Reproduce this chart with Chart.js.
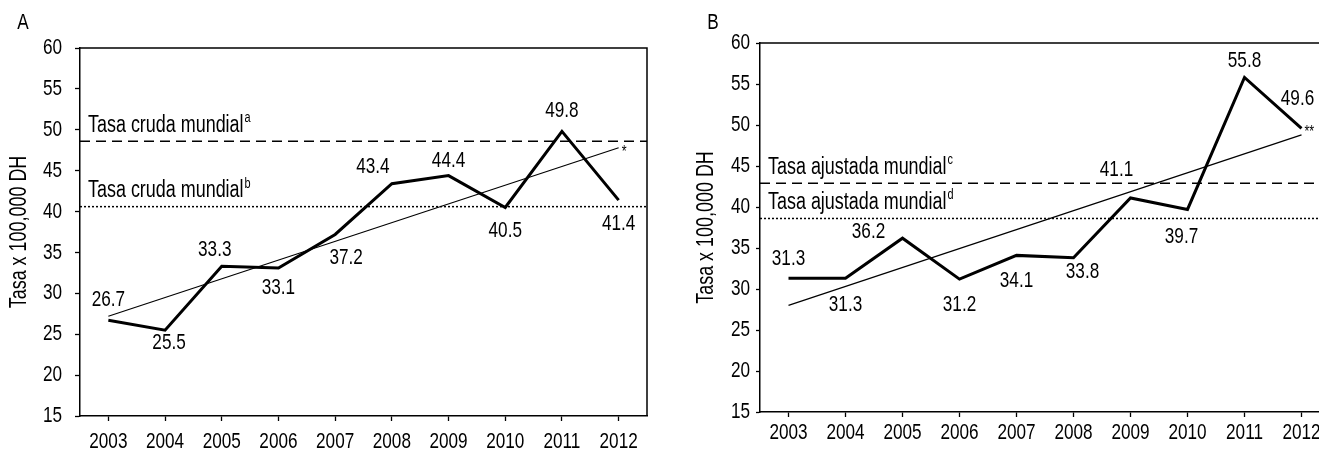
<!DOCTYPE html>
<html lang="es">
<head>
<meta charset="UTF-8">
<title>Tasa x 100,000 DH</title>
<script src="https://cdn.jsdelivr.net/npm/chart.js"></script>
<style>
    body {
        margin: 0;
        background: #fff;
        width: 1319px;
        height: 452px;
        overflow: hidden;
        position: relative;
    }

    .panel {
        position: absolute;
        top: 0;
        height: 452px;
        overflow: hidden;
    }

    #panelA { left: 0; width: 660px; }
    #panelB { left: 680px; width: 639px; }
</style>
</head>
<body>

<div class="panel" id="panelA"><canvas id="chartA" width="660" height="452"></canvas></div>
<div class="panel" id="panelB"><canvas id="chartB" width="680" height="452"></canvas></div>

<script>
    // values
    const years = ['2003', '2004', '2005', '2006', '2007', '2008', '2009', '2010', '2011', '2012'];
    const tasaCruda = [26.7, 25.5, 33.3, 33.1, 37.2, 43.4, 44.4, 40.5, 49.8, 41.4];
    const tasaAjustada = [31.3, 31.3, 36.2, 31.2, 34.1, 33.8, 41.1, 39.7, 55.8, 49.6];
    // ends (2003, 2012) of the fitted trend lines
    const tendenciaCruda = [27.2, 47.8];
    const tendenciaAjustada = [28.0, 48.8];
    // world reference rates: dashed, dotted
    const mundialCruda = [48.6, 40.6];
    const mundialAjustada = [42.9, 38.6];
    const yTicks = [15, 20, 25, 30, 35, 40, 45, 50, 55, 60];

    const FAMILY = "'Liberation Sans', Arial, sans-serif";
    const font = { family: FAMILY, size: 22 };
    const titleFont = { family: FAMILY, size: 23 };
    // the original uses a condensed face, so text is squeezed horizontally
    const NARROW = 0.78;

    // where each value label sits relative to its point (px)
    const offsetsA = [[0, -20], [4, 13], [-7, -16], [0, 20], [11, 23], [-19, -17], [0, -15], [0, 23], [0, -20], [0, 24]];
    const offsetsB = [[0, -19], [0, 27], [-34, -6], [0, 26], [0, 26], [9, 14], [-14, -28], [-6, 27], [0, -17], [-4, -29]];

    const narrow = {
        id: 'narrow',
        beforeInit(chart) {
            const ctx = chart.ctx;
            const fill = ctx.fillText.bind(ctx);
            ctx.fillText = function (text, x, y) {
                this.save();
                this.translate(x, y);
                this.scale(NARROW, 1);
                fill(text, 0, 0);
                this.restore();
            };
        }
    };

    function textWithSup(ctx, x, y, main, sup) {
        ctx.font = `23px ${FAMILY}`;
        ctx.textAlign = 'left';
        ctx.textBaseline = 'middle';
        ctx.fillText(main, x, y);
        const w = ctx.measureText(main).width * NARROW;
        ctx.font = `14px ${FAMILY}`;
        ctx.fillText(sup, x + w + 1, y - 7);
    }

    // reference lines, box, value labels, panel letter
    const decor = {
        id: 'decor',
        beforeDatasetsDraw(chart, args, opts) {
            const { ctx, chartArea: a, scales: { y } } = chart;
            ctx.save();
            ctx.strokeStyle = '#000';
            ctx.lineWidth = 1.5;
            opts.refs.forEach(r => {
                const py = y.getPixelForValue(r.value);
                ctx.setLineDash(r.dash);
                ctx.beginPath();
                ctx.moveTo(a.left, py);
                ctx.lineTo(a.right, py);
                ctx.stroke();
                ctx.setLineDash([]);
                ctx.fillStyle = '#000';
                textWithSup(ctx, a.left + 8, py - 16, r.text, r.sup);
            });
            ctx.restore();
        },
        afterDatasetsDraw(chart, args, opts) {
            const { ctx, chartArea: a } = chart;
            ctx.save();
            ctx.strokeStyle = '#000';
            ctx.lineWidth = 1.5;
            ctx.beginPath();
            ctx.moveTo(a.left, a.top);
            ctx.lineTo(a.right, a.top);
            ctx.lineTo(a.right, a.bottom);
            ctx.stroke();

            ctx.fillStyle = '#000';
            ctx.font = `22px ${FAMILY}`;
            ctx.textAlign = 'center';
            ctx.textBaseline = 'middle';
            const pts = chart.getDatasetMeta(0).data;
            const vals = chart.data.datasets[0].data;
            pts.forEach((p, i) => {
                const o = opts.offsets[i];
                ctx.fillText(vals[i].toFixed(1), p.x + o[0], p.y + o[1]);
            });

            // asterisk mark next to the end of the series
            const ds = chart.getDatasetMeta(opts.star.dataset).data;
            const end = ds[ds.length - 1];
            ctx.font = `16px ${FAMILY}`;
            ctx.textAlign = 'left';
            ctx.textBaseline = 'alphabetic';
            ctx.fillText(opts.star.text, end.x + 3, end.y + 9);

            ctx.font = `22px ${FAMILY}`;
            ctx.textAlign = 'center';
            ctx.textBaseline = 'middle';
            ctx.fillText(opts.letter, opts.letterX, 23);
            ctx.restore();
        }
    };

    function panel(id, o) {
        const last = years.length - 1;
        return new Chart(document.getElementById(id), {
            type: 'line',
            data: {
                labels: years,
                datasets: [
                    {
                        data: o.values,
                        borderColor: '#000',
                        borderWidth: 3,
                        borderJoinStyle: 'miter',
                        pointRadius: 0,
                        tension: 0,
                        fill: false
                    },
                    {
                        data: years.map((_, i) => i === 0 ? o.trend[0] : (i === last ? o.trend[1] : null)),
                        borderColor: '#000',
                        borderWidth: 1.2,
                        pointRadius: 0,
                        spanGaps: true,
                        fill: false
                    }
                ]
            },
            options: {
                responsive: false,
                animation: false,
                layout: { padding: { left: 0, top: o.top, right: o.right, bottom: 0 } },
                plugins: {
                    legend: { display: false },
                    tooltip: { enabled: false },
                    decor: {
                        refs: o.refs,
                        offsets: o.offsets,
                        star: o.star,
                        letter: o.letter,
                        letterX: o.letterX
                    }
                },
                scales: {
                    x: {
                        offset: true,
                        grid: { drawOnChartArea: false, color: '#000', tickLength: 5, tickWidth: 1.3 },
                        border: { color: '#000', width: 1.5 },
                        ticks: { color: '#000', font: font, padding: o.xPad, maxRotation: 0, autoSkip: false },
                        afterFit: s => { s.height = o.xHeight; }
                    },
                    y: {
                        min: 15,
                        max: 60,
                        afterBuildTicks: s => { s.ticks = yTicks.map(v => ({ value: v })); },
                        grid: { drawOnChartArea: false, color: '#000', tickLength: o.yTick, tickWidth: 1.3 },
                        border: { color: '#000', width: 1.5 },
                        ticks: { color: '#000', font: font, padding: o.yPad },
                        title: {
                            display: true,
                            text: 'Tasa x 100,000 DH',
                            color: '#000',
                            font: titleFont,
                            padding: { top: o.titlePad, bottom: 0 }
                        },
                        afterFit: s => { s.width = 80; }
                    }
                }
            },
            plugins: [narrow, decor]
        });
    }

    panel('chartA', {
        values: tasaCruda,
        trend: tendenciaCruda,
        offsets: offsetsA,
        refs: [
            { value: mundialCruda[0], dash: [10, 6], text: 'Tasa cruda mundial', sup: 'a' },
            { value: mundialCruda[1], dash: [2, 2], text: 'Tasa cruda mundial', sup: 'b' }
        ],
        star: { dataset: 1, text: '*' },
        letter: 'A',
        letterX: 23,
        top: 48,
        right: 13,
        xHeight: 36,
        xPad: 8,
        yPad: 13,
        yTick: 5,
        titlePad: 6
    });

    panel('chartB', {
        values: tasaAjustada,
        trend: tendenciaAjustada,
        offsets: offsetsB,
        refs: [
            { value: mundialAjustada[0], dash: [10, 6], text: 'Tasa ajustada mundial', sup: 'c' },
            { value: mundialAjustada[1], dash: [2, 2], text: 'Tasa ajustada mundial', sup: 'd' }
        ],
        star: { dataset: 0, text: '**' },
        letter: 'B',
        letterX: 33,
        top: 43,
        right: 30,
        xHeight: 40,
        xPad: 3,
        yPad: 6,
        yTick: 4,
        titlePad: 13
    });
</script>

</body>
</html>
